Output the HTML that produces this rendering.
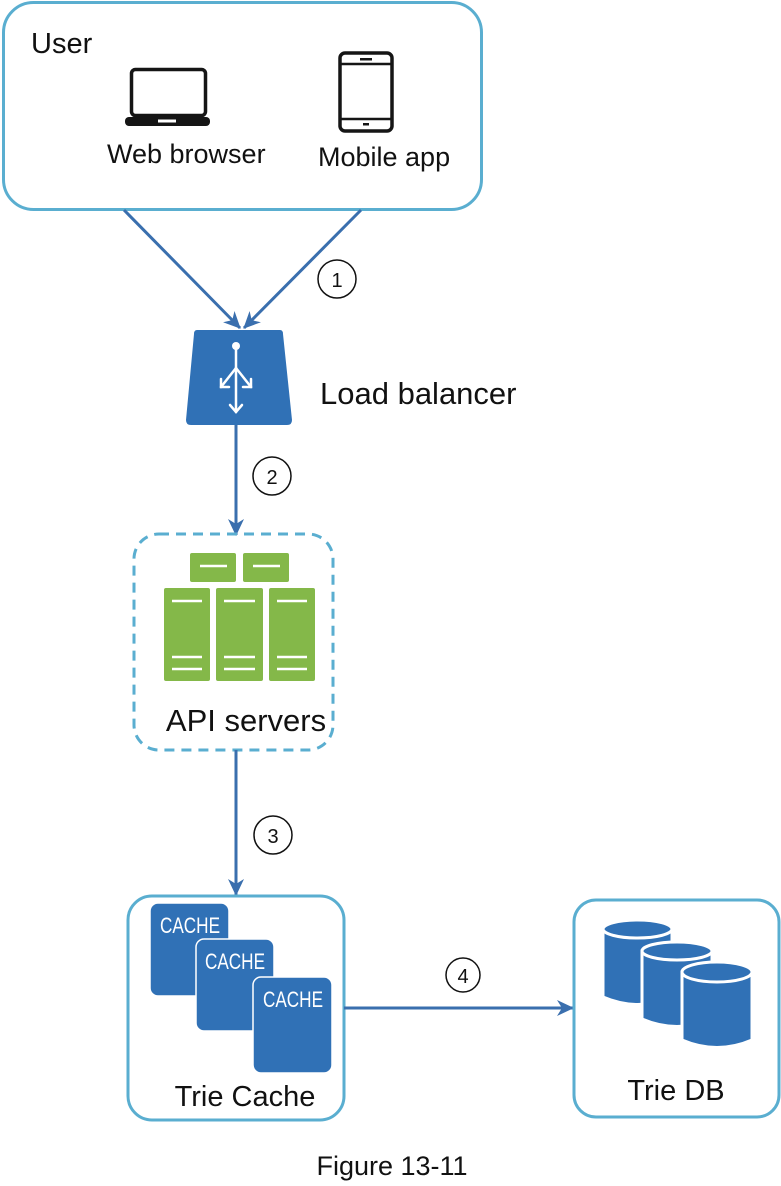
<!DOCTYPE html>
<html><head><meta charset="utf-8"><style>
html,body{margin:0;padding:0;background:#fff;}
svg{display:block;}
text{font-family:"Liberation Sans",sans-serif;fill:#111;}
</style></head><body>
<svg width="781" height="1186" viewBox="0 0 781 1186" xmlns="http://www.w3.org/2000/svg">
<defs>
<marker id="ah" markerWidth="18" markerHeight="16" refX="16" refY="8" orient="auto" markerUnits="userSpaceOnUse">
<path d="M0,0 L17,8 L0,16 L5,8 Z" fill="#3a6fae"/>
</marker>
</defs>
<!-- User box -->
<rect x="3.5" y="2.5" width="478" height="207" rx="30" fill="#fff" stroke="#5aaed0" stroke-width="3"/>
<text x="31" y="53" font-size="29">User</text>
<!-- laptop -->
<rect x="131.5" y="69.5" width="74" height="46" rx="4" fill="none" stroke="#151515" stroke-width="3.5"/>
<rect x="125" y="117" width="85" height="9" rx="4" fill="#151515"/>
<rect x="158" y="119.5" width="18" height="3" fill="#fff"/>
<text x="107" y="163" font-size="27">Web browser</text>
<!-- phone -->
<rect x="340" y="53" width="52" height="78" rx="5" fill="none" stroke="#151515" stroke-width="3.5"/>
<line x1="341" y1="64" x2="391" y2="64" stroke="#151515" stroke-width="2.5"/>
<line x1="341" y1="119" x2="391" y2="119" stroke="#151515" stroke-width="2.5"/>
<rect x="360" y="58" width="12" height="2.5" fill="#151515"/>
<rect x="363" y="123" width="6" height="2.5" fill="#151515"/>
<text x="318" y="166" font-size="27">Mobile app</text>
<!-- arrows 1 -->
<line x1="124" y1="210" x2="240" y2="328" stroke="#3a6fae" stroke-width="3" marker-end="url(#ah)"/>
<line x1="361" y1="210" x2="244" y2="328" stroke="#3a6fae" stroke-width="3" marker-end="url(#ah)"/>
<circle cx="337" cy="279" r="19" fill="#fff" stroke="#111" stroke-width="1.5"/>
<text x="337" y="287" font-size="20" text-anchor="middle">1</text>
<!-- load balancer -->
<path d="M197,330 L280,330 Q283,330 283,334 L292,420 Q292,425 287,425 L191,425 Q186,425 186,420 L194,334 Q194,330 197,330 Z" fill="#3071b6"/>
<g stroke="#fff" stroke-width="2.5" fill="none" stroke-linecap="round">
<line x1="236" y1="347" x2="236" y2="412"/>
<line x1="236" y1="368" x2="221" y2="387"/>
<line x1="236" y1="368" x2="251" y2="387"/>
<path d="M221,379 L221,387 L229,387"/>
<path d="M251,379 L251,387 L243,387"/>
<path d="M230,405 L236,412 L242,405"/>
</g>
<circle cx="236" cy="346" r="4" fill="#fff"/>
<text x="320" y="404" font-size="31">Load balancer</text>
<!-- arrow 2 -->
<line x1="236" y1="425" x2="236" y2="535" stroke="#3a6fae" stroke-width="3" marker-end="url(#ah)"/>
<circle cx="272" cy="476" r="19" fill="#fff" stroke="#111" stroke-width="1.5"/>
<text x="272" y="484" font-size="20" text-anchor="middle">2</text>
<!-- API servers -->
<rect x="134" y="534" width="199" height="216" rx="25" fill="none" stroke="#5aaed0" stroke-width="3" stroke-dasharray="10,7"/>
<g fill="#84b849">
<rect x="190" y="553" width="46" height="29" rx="2"/>
<rect x="243" y="553" width="46" height="29" rx="2"/>
<rect x="164" y="588" width="46" height="93" rx="2"/>
<rect x="216" y="588" width="47" height="93" rx="2"/>
<rect x="269" y="588" width="46" height="93" rx="2"/>
</g>
<g stroke="#fff" stroke-width="2.5">
<line x1="200" y1="566" x2="227" y2="566"/><line x1="253" y1="566" x2="280" y2="566"/>
<line x1="172" y1="601" x2="202" y2="601"/><line x1="224" y1="601" x2="255" y2="601"/><line x1="277" y1="601" x2="307" y2="601"/>
<line x1="172" y1="657" x2="202" y2="657"/><line x1="224" y1="657" x2="255" y2="657"/><line x1="277" y1="657" x2="307" y2="657"/>
<line x1="172" y1="669" x2="202" y2="669"/><line x1="224" y1="669" x2="255" y2="669"/><line x1="277" y1="669" x2="307" y2="669"/>
</g>
<text x="246" y="731" font-size="31" text-anchor="middle">API servers</text>
<!-- arrow 3 -->
<line x1="236" y1="750" x2="236" y2="895" stroke="#3a6fae" stroke-width="3" marker-end="url(#ah)"/>
<circle cx="273" cy="835" r="19" fill="#fff" stroke="#111" stroke-width="1.5"/>
<text x="273" y="843" font-size="20" text-anchor="middle">3</text>
<!-- Trie cache -->
<rect x="128" y="896" width="216" height="224" rx="24" fill="#fff" stroke="#5aaed0" stroke-width="3"/>
<g fill="#3071b6" stroke="#fff" stroke-width="1.5">
<rect x="150" y="903" width="79" height="93" rx="8"/>
<rect x="196" y="939" width="78" height="92" rx="8"/>
<rect x="253" y="977" width="79" height="96" rx="8"/>
</g>
<g font-size="22" font-family="Liberation Sans Narrow, Liberation Sans, sans-serif">
<text x="160" y="933" style="fill:#fff" textLength="60" lengthAdjust="spacingAndGlyphs">CACHE</text>
<text x="205" y="969" style="fill:#fff" textLength="60" lengthAdjust="spacingAndGlyphs">CACHE</text>
<text x="263" y="1007" style="fill:#fff" textLength="60" lengthAdjust="spacingAndGlyphs">CACHE</text>
</g>
<text x="245" y="1106" font-size="29" text-anchor="middle">Trie Cache</text>
<!-- arrow 4 -->
<line x1="344" y1="1008" x2="573" y2="1008" stroke="#3a6fae" stroke-width="3" marker-end="url(#ah)"/>
<circle cx="463" cy="975" r="17" fill="#fff" stroke="#111" stroke-width="1.5"/>
<text x="463" y="983" font-size="20" text-anchor="middle">4</text>
<!-- Trie DB -->
<rect x="574" y="900" width="205" height="217" rx="22" fill="#fff" stroke="#5aaed0" stroke-width="3"/>
<g fill="#3071b6" stroke="#fff" stroke-width="3">
<path d="M603,929 L603,997 Q638,1012 672,997 L672,929 Z"/>
<ellipse cx="637.5" cy="929" rx="34.5" ry="9"/>
<path d="M642,951 L642,1019 Q677,1034 712,1019 L712,951 Z"/>
<ellipse cx="677" cy="951" rx="35" ry="9"/>
<path d="M682,972 L682,1040 Q717,1055 752,1040 L752,972 Z"/>
<ellipse cx="717" cy="972" rx="35" ry="10"/>
</g>
<text x="676" y="1100" font-size="29" text-anchor="middle">Trie DB</text>
<!-- caption -->
<text x="392" y="1175" font-size="27" text-anchor="middle">Figure 13-11</text>
</svg>
</body></html>
